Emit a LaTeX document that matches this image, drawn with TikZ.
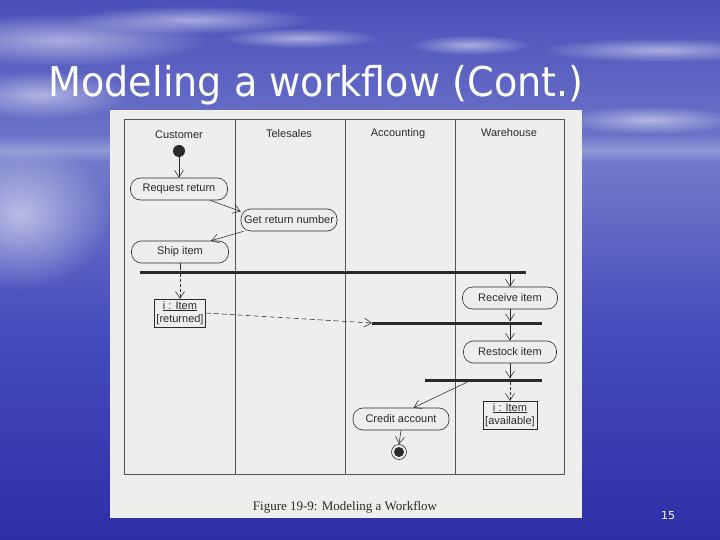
\documentclass[tikz,border=0pt]{standalone}
\usepackage{fontspec}
\setmainfont{Liberation Sans}
\newfontfamily\capfont{Liberation Serif}
\newfontfamily\titlefont{DejaVu Sans}
\usetikzlibrary{arrows.meta,fadings}
\tikzfading[name=softblob, inner color=transparent!0, outer color=transparent!100]
\definecolor{skytop}{HTML}{4B50BA}
\definecolor{skybot}{HTML}{6A72C8}
\definecolor{horizon}{HTML}{9098D6}
\definecolor{sealight}{HTML}{727ACA}
\definecolor{seamid}{HTML}{474DBC}
\definecolor{seabot}{HTML}{2D2FA6}
\definecolor{paper}{HTML}{EEEEEC}
\definecolor{ink}{HTML}{2A2A2A}
\definecolor{laneline}{HTML}{555555}
\pgfdeclareverticalshading{slidebg}{100bp}{color(0bp)=(seabot); color(25bp)=(seabot); color(45bp)=(seamid); color(60bp)=(sealight); color(61.1bp)=(horizon); color(62.5bp)=(skybot); color(75bp)=(skytop); color(100bp)=(skytop)}
\tikzset{
  lbl/.style={font=\fontsize{11}{13}\selectfont, text=ink, inner sep=0pt},
  act/.style={draw=ink, line width=0.6pt, rounded corners=10pt, minimum height=22pt,
              minimum width=96pt, inner sep=1pt, fill=paper, font=\fontsize{11}{13}\selectfont, text=ink},
  obj/.style={draw=ink, line width=0.5pt, inner xsep=2pt, inner ysep=2pt, fill=paper,
              font=\fontsize{11}{13.5}\selectfont, text=ink, align=center},
  syncbar/.style={fill=ink, inner sep=0pt, minimum height=3pt},
  flow/.style={draw=ink, line width=0.55pt, -{Straight Barb[length=7pt,width=9pt]}},
  plain/.style={draw=ink, line width=0.55pt},
  lane/.style={draw=laneline, line width=0.8pt},
  wisp/.style={fill=white, path fading=softblob, opacity=0.5}
}
\begin{document}
\begin{tikzpicture}[x=1pt,y=-1pt]
\useasboundingbox (0,0) rectangle (720,540);
% background
\shade[shading=slidebg] (0,0) rectangle (720,540);
\fill[wisp] (60,40) ellipse (150 and 26);
\fill[wisp] (190,20) ellipse (120 and 14);
\fill[wisp] (300,38) ellipse (80 and 10);
\fill[wisp] (470,45) ellipse (60 and 10);
\fill[wisp] (660,50) ellipse (120 and 12);
\fill[wisp] (40,95) ellipse (90 and 24);
\fill[wisp] (650,120) ellipse (90 and 14);
\fill[white, path fading=softblob, opacity=0.55] (20,215) ellipse (90 and 75);
% title
\node[anchor=base west, text=white] (title) at (45,97)
  {\scalebox{0.93}[1]{\titlefont\fontsize{41}{41}\selectfont Modeling a workflow (Cont.)}};
% paper
\fill[paper] (110,110) rectangle (582,518);
% lanes
\draw[lane] (124,119) rectangle (564,474);
\draw[lane] (235,119) -- (235,474);
\draw[lane] (345,119) -- (345,474);
\draw[lane] (455,119) -- (455,474);
\node[lbl] (h1) at (179,135) {Customer};
\node[lbl] (h2) at (289,134) {Telesales};
\node[lbl] (h3) at (398,134) {Accounting};
\node[lbl] (h4) at (509,133) {Warehouse};
% nodes
\node[circle, fill=ink, minimum size=12pt, inner sep=0pt] (start) at (179,151) {};
\node[act, minimum width=97pt] (req) at (179,189) {Request return};
\node[act] (get) at (289,220) {Get return number};
\node[act, minimum width=97pt] (ship) at (180,252) {Ship item};
\node[syncbar, minimum width=386pt] (bar1) at (333,272) {};
\node[obj] (objr) at (180,313) {\underline{i : Item}\\{[returned]}};
\node[act, minimum width=95pt] (recv) at (510,298) {Receive item};
\node[syncbar, minimum width=170pt] (bar2) at (457,323) {};
\node[act, minimum width=93pt] (rest) at (510,352) {Restock item};
\node[syncbar, minimum width=117pt] (bar3) at (483.5,380) {};
\node[obj] (obja) at (510,415) {\underline{i : Item}\\{[available]}};
\node[act] (cred) at (401,419) {Credit account};
\node[circle, draw=ink, line width=0.6pt, minimum size=15pt, inner sep=0pt] (final) at (399,452) {};
\fill[ink] (final.center) circle (5);
% connectors
\draw[flow] (start) -- (req);
\draw[flow] (req.-20) -- (get.170);
\draw[flow] (get.194) -- (ship.20);
\draw[plain] (ship.south) -- (ship.south |- bar1.north);
\draw[flow, dashed, dash pattern=on 3pt off 2pt] (ship.south |- bar1.south) -- (objr.north);
\draw[flow, dashed, dash pattern=on 5pt off 3pt] (objr.east) -- (bar2.west);
\draw[flow] (recv.north |- bar1.south) -- (recv.north);
\draw[flow] (recv.south) -- (recv.south |- bar2.north);
\draw[flow] (rest.north |- bar2.south) -- (rest.north);
\draw[flow] (rest.south) -- (rest.south |- bar3.north);
\draw[flow, dashed, dash pattern=on 3pt off 2pt] (obja.north |- bar3.south) -- (obja.north);
\draw[flow] ([xshift=-15.5pt]bar3.south) -- (cred.42);
\draw[flow] (cred.south) -- (final.north);
% caption and page number
\node[font=\capfont\fontsize{13}{15}\selectfont, text=ink] (cap) at (345,507) {Figure 19-9: Modeling a Workflow};
\node[font=\titlefont\fontsize{11}{13}\selectfont, text=white] (pg) at (668,516) {15};
\end{tikzpicture}
\end{document}
